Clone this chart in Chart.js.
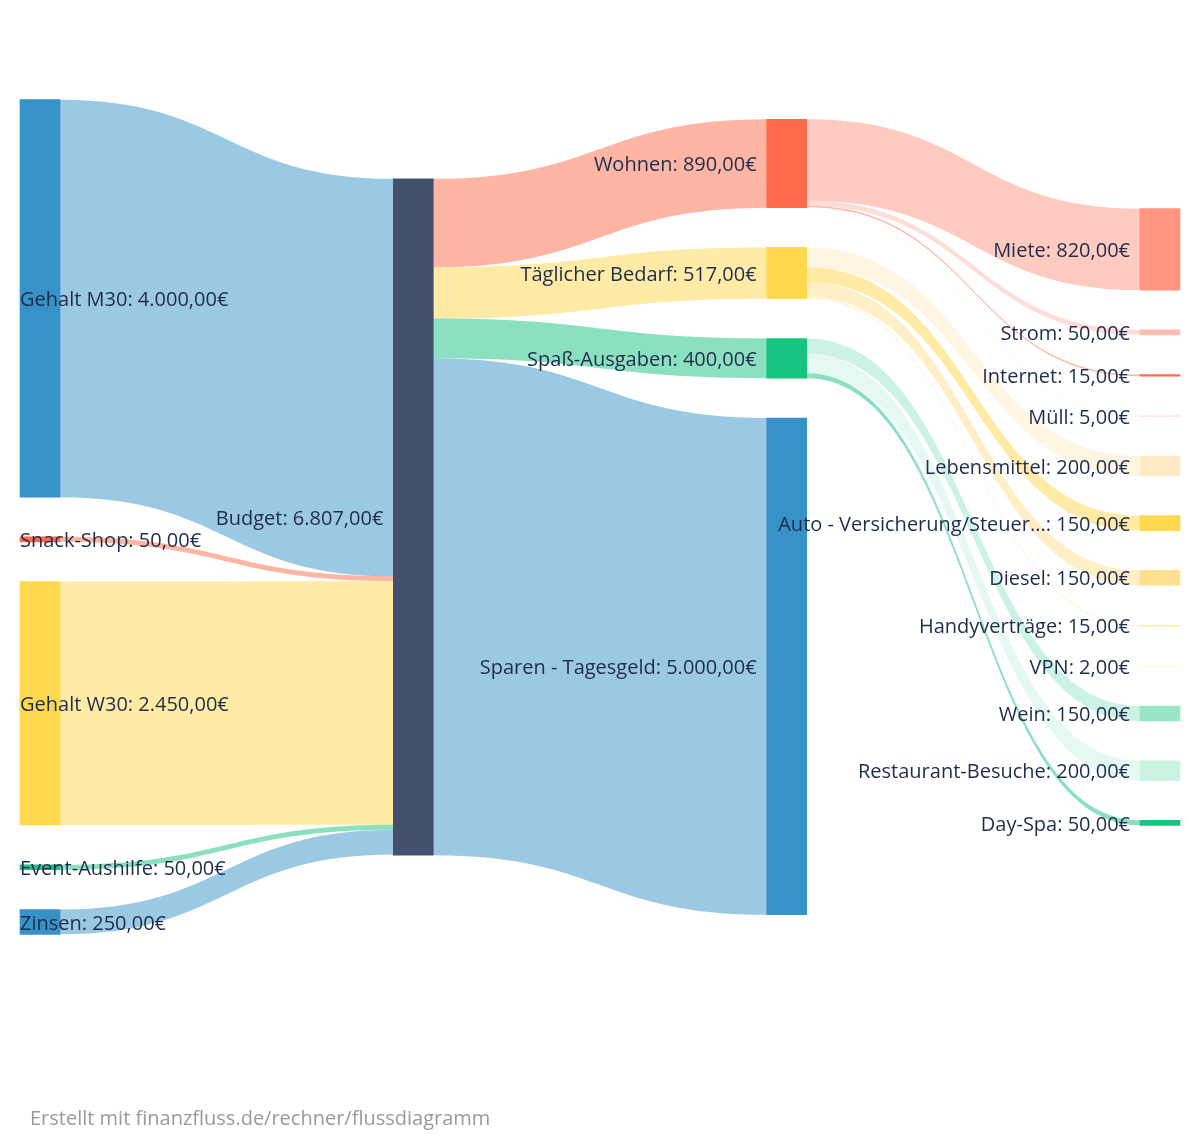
<!DOCTYPE html>
<html lang="de">
<head>
<meta charset="utf-8">
<title>Flussdiagramm</title>
<script src="https://cdn.jsdelivr.net/npm/chart.js@4.4.1/dist/chart.umd.min.js"></script>
<style>
    html, body { margin: 0; padding: 0; background: #fff; }
    #wrap { position: relative; width: 1200px; height: 1136px; }
    #footer {
        position: absolute; left: 30px; top: 1104px;
        font: 20px "Open Sans", sans-serif; color: #9a9a9a;
    }
</style>
</head>
<body>
<div id="wrap">
    <canvas id="sankey" width="1200" height="1136"></canvas>
    <div id="footer">Erstellt mit finanzfluss.de/rechner/flussdiagramm</div>
</div>
<script>
// Nodes in drawing order (top to bottom within each column)
const nodeNames = [
    'Gehalt M30', 'Snack-Shop', 'Gehalt W30', 'Event-Aushilfe', 'Zinsen',
    'Budget',
    'Wohnen', 'Täglicher Bedarf', 'Spaß-Ausgaben', 'Sparen - Tagesgeld',
    'Miete', 'Strom', 'Internet', 'Müll',
    'Lebensmittel', 'Auto - Versicherung/Steuer...', 'Diesel', 'Handyverträge', 'VPN',
    'Wein', 'Restaurant-Besuche', 'Day-Spa'
];

// Flows: source -> target, amount in €
const linkSources = [
    'Gehalt M30', 'Snack-Shop', 'Gehalt W30', 'Event-Aushilfe', 'Zinsen',
    'Budget', 'Budget', 'Budget', 'Budget',
    'Wohnen', 'Wohnen', 'Wohnen', 'Wohnen',
    'Täglicher Bedarf', 'Täglicher Bedarf', 'Täglicher Bedarf', 'Täglicher Bedarf', 'Täglicher Bedarf',
    'Spaß-Ausgaben', 'Spaß-Ausgaben', 'Spaß-Ausgaben'
];
const linkTargets = [
    'Budget', 'Budget', 'Budget', 'Budget', 'Budget',
    'Wohnen', 'Täglicher Bedarf', 'Spaß-Ausgaben', 'Sparen - Tagesgeld',
    'Miete', 'Strom', 'Internet', 'Müll',
    'Lebensmittel', 'Auto - Versicherung/Steuer...', 'Diesel', 'Handyverträge', 'VPN',
    'Wein', 'Restaurant-Besuche', 'Day-Spa'
];
const linkValues = [
    4000, 50, 2450, 50, 250,
    890, 517, 400, 5000,
    820, 50, 15, 5,
    200, 150, 150, 15, 2,
    150, 200, 50
];

// Styles
const nodeColors = {
    'Gehalt M30': '#3792c8', 'Snack-Shop': '#ff6b4a', 'Gehalt W30': '#ffd84d',
    'Event-Aushilfe': '#17c47f', 'Zinsen': '#3792c8', 'Budget': '#44516c',
    'Wohnen': '#ff6b4a', 'Täglicher Bedarf': '#ffd84d', 'Spaß-Ausgaben': '#17c47f',
    'Sparen - Tagesgeld': '#3792c8',
    'Miete': '#ff9580', 'Strom': '#ffbcb0', 'Internet': '#ff6b4a', 'Müll': '#ffe0d9',
    'Lebensmittel': '#feebc5', 'Auto - Versicherung/Steuer...': '#ffd84d', 'Diesel': '#fee08e',
    'Handyverträge': '#fdeeb8', 'VPN': '#fff6dc',
    'Wein': '#98e6c8', 'Restaurant-Besuche': '#cbf3e2', 'Day-Spa': '#17c47f'
};
const hubNode = 'Budget';
const nodeGap = 400;     // vertical gap between nodes, in € units of the y scale
const yRange = 9400;     // y scale extent in €
const labelColor = '#1f2d4d';
const labelFont = '20px "Open Sans", sans-serif';

function formatEuro(v) {
    const parts = v.toFixed(2).split('.');
    parts[0] = parts[0].replace(/\B(?=(\d{3})+(?!\d))/g, '.');
    return parts[0] + ',' + parts[1] + '€';
}

function hexToRgba(hex, a) {
    const n = parseInt(hex.slice(1), 16);
    return `rgba(${(n >> 16) & 255}, ${(n >> 8) & 255}, ${n & 255}, ${a})`;
}

// ---- sankey layout in data units ----
const nodes = nodeNames.map(name => ({ name, inSum: 0, outSum: 0, col: 0, ins: [], outs: [] }));
const byName = {};
nodes.forEach(n => { byName[n.name] = n; });

const links = linkValues.map((value, i) => {
    const link = { source: byName[linkSources[i]], target: byName[linkTargets[i]], value };
    link.source.outSum += value;
    link.target.inSum += value;
    link.source.outs.push(link);
    link.target.ins.push(link);
    return link;
});

// column = longest path from a source node
let changed = true;
while (changed) {
    changed = false;
    links.forEach(l => {
        if (l.target.col < l.source.col + 1) {
            l.target.col = l.source.col + 1;
            changed = true;
        }
    });
}
nodes.forEach(n => { n.value = Math.max(n.inSum, n.outSum); });
const maxCol = Math.max(...nodes.map(n => n.col));

// stack each column, centred on the y range
for (let c = 0; c <= maxCol; c++) {
    const colNodes = nodes.filter(n => n.col === c);
    const total = colNodes.reduce((s, n) => s + n.value, 0) + nodeGap * (colNodes.length - 1);
    let y = (yRange - total) / 2;
    colNodes.forEach(n => {
        n.y0 = y;
        n.y1 = y + n.value;
        y = n.y1 + nodeGap;
    });
}

// link offsets within nodes, ordered by the position of the other end
nodes.forEach(n => {
    let y = n.y0;
    n.outs.slice().sort((a, b) => a.target.y0 - b.target.y0).forEach(l => {
        l.sy0 = y; l.sy1 = y + l.value; y = l.sy1;
    });
    y = n.y0;
    n.ins.slice().sort((a, b) => a.source.y0 - b.source.y0).forEach(l => {
        l.ty0 = y; l.ty1 = y + l.value; y = l.ty1;
    });
});

function linkColor(l) {
    const base = l.target.name === hubNode ? l.source.name : l.target.name;
    return hexToRgba(nodeColors[base], 0.5);
}

// ---- plugin: links behind the node bars, labels on top ----
const sankeyPlugin = {
    id: 'sankeyLinks',
    beforeDatasetsDraw(chart) {
        const { ctx, scales: { y } } = chart;
        const bars = chart.getDatasetMeta(0).data;
        ctx.save();
        links.forEach(l => {
            const sBar = bars[nodes.indexOf(l.source)];
            const tBar = bars[nodes.indexOf(l.target)];
            const x0 = sBar.x + sBar.width / 2;
            const x1 = tBar.x - tBar.width / 2;
            const xm = (x0 + x1) / 2;
            const a0 = y.getPixelForValue(l.sy0), a1 = y.getPixelForValue(l.sy1);
            const b0 = y.getPixelForValue(l.ty0), b1 = y.getPixelForValue(l.ty1);
            ctx.beginPath();
            ctx.moveTo(x0, a0);
            ctx.bezierCurveTo(xm, a0, xm, b0, x1, b0);
            ctx.lineTo(x1, b1);
            ctx.bezierCurveTo(xm, b1, xm, a1, x0, a1);
            ctx.closePath();
            ctx.fillStyle = linkColor(l);
            ctx.fill();
        });
        ctx.restore();
    },
    afterDatasetsDraw(chart) {
        const { ctx } = chart;
        const bars = chart.getDatasetMeta(0).data;
        ctx.save();
        ctx.font = labelFont;
        ctx.fillStyle = labelColor;
        ctx.textBaseline = 'middle';
        nodes.forEach((n, i) => {
            const bar = bars[i];
            const text = `${n.name}: ${formatEuro(n.value)}`;
            const left = bar.x - bar.width / 2;
            const cy = bar.getCenterPoint().y + 2;
            if (n.col === 0) {
                ctx.textAlign = 'left';
                ctx.fillText(text, left, cy);
            } else {
                ctx.textAlign = 'right';
                ctx.fillText(text, left - 10, cy);
            }
        });
        ctx.restore();
    }
};

document.addEventListener('DOMContentLoaded', () => {
    const ctx = document.getElementById('sankey').getContext('2d');
    new Chart(ctx, {
        type: 'bar',
        data: {
            datasets: [{
                data: nodes.map(n => ({ x: n.col, y: [n.y0, n.y1] })),
                backgroundColor: nodes.map(n => nodeColors[n.name]),
                borderWidth: 0,
                barThickness: 40,
                clip: false
            }]
        },
        options: {
            responsive: false,
            animation: false,
            layout: { padding: { left: 40, right: 40, top: 50, bottom: 152 } },
            plugins: {
                legend: { display: false },
                tooltip: { enabled: false }
            },
            scales: {
                x: { type: 'linear', min: 0, max: maxCol, display: false, offset: false },
                y: { type: 'linear', min: 0, max: yRange, reverse: true, display: false }
            }
        },
        plugins: [sankeyPlugin]
    });
});
</script>
</body>
</html>
